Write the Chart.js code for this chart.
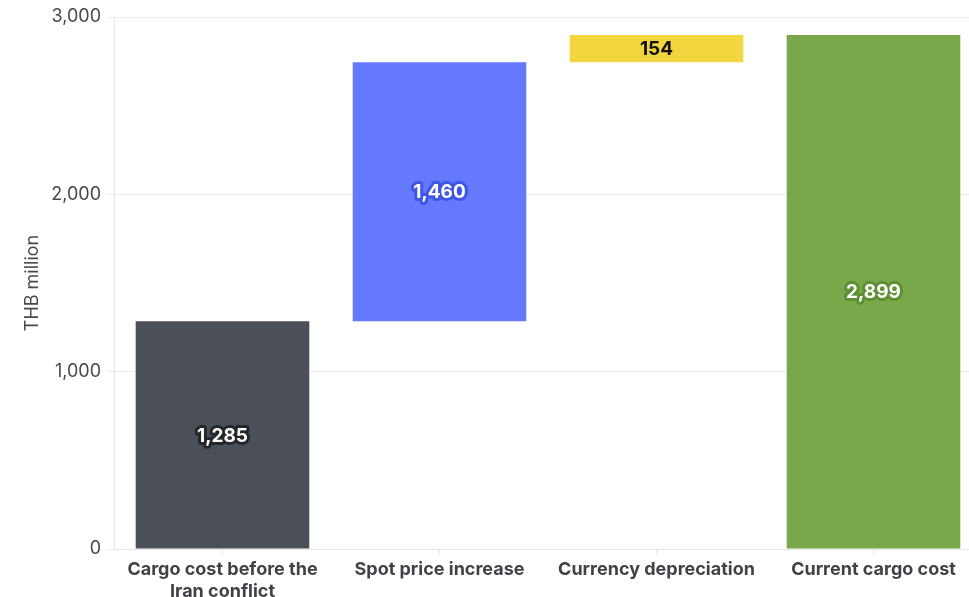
<!DOCTYPE html>
<html>
<head>
<meta charset="utf-8">
<script src="https://cdn.jsdelivr.net/npm/chart.js@4"></script>
<style>
  html, body { margin: 0; padding: 0; background: #fff; overflow: hidden; }
  #wrap { position: relative; width: 982px; height: 597px; }
</style>
</head>
<body>
<div id="wrap"><canvas id="c"></canvas></div>
<script>
const categories = [["Cargo cost before the", "Iran conflict"], "Spot price increase", "Currency depreciation", "Current cargo cost"];
const values = [1285, 1460, 154, 2899];
const isTotal = [true, false, false, true];
const valueLabels = ["1,285", "1,460", "154", "2,899"];
const barColors = ["#4b5058", "#6479fb", "#f3d540", "#79a84a"];
const labelColors = ["#ffffff", "#ffffff", "#111111", "#ffffff"];
const labelStrokes = ["#23272c", "#3f55e6", "#f3d540", "#5f8f33"];
const yTicks = [0, 1000, 2000, 3000];

// build floating ranges for the waterfall
let running = 0;
const ranges = values.map((v, i) => {
  if (isTotal[i]) { running = v; return [0, v]; }
  const r = [running, running + v];
  running += v;
  return r;
});

const labelPlugin = {
  id: 'barLabels',
  afterDatasetsDraw(chart) {
    const ctx = chart.ctx;
    const meta = chart.getDatasetMeta(0);
    ctx.save();
    ctx.font = 'bold 19px Inter';
    ctx.textAlign = 'center';
    ctx.textBaseline = 'middle';
    ctx.lineJoin = 'round';
    meta.data.forEach((bar, i) => {
      const y = (bar.y + bar.base) / 2 + 1;
      ctx.lineWidth = 6;
      ctx.strokeStyle = labelStrokes[i];
      ctx.strokeText(valueLabels[i], bar.x, y);
      ctx.fillStyle = labelColors[i];
      ctx.fillText(valueLabels[i], bar.x, y);
    });
    ctx.restore();
  }
};

new Chart(document.getElementById('c'), {
  type: 'bar',
  data: {
    labels: categories,
    datasets: [{
      data: ranges,
      backgroundColor: barColors,
      borderWidth: 0,
      borderSkipped: false,
      barPercentage: 0.8,
      categoryPercentage: 1.0
    }]
  },
  options: {
    responsive: true,
    maintainAspectRatio: false,
    animation: false,
    layout: { padding: { top: 17, right: 0, left: 0, bottom: 0 } },
    plugins: { legend: { display: false }, tooltip: { enabled: false } },
    scales: {
      x: {
        grid: { offset: false, drawOnChartArea: false, drawTicks: true, tickLength: 6, color: '#e6e6e6' },
        border: { color: '#e6e6e6' },
        ticks: { color: '#3f4247', font: { family: 'Inter', size: 18, weight: 'bold' }, padding: 4, maxRotation: 0, autoSkip: false },
        afterFit(scale) { scale.height = 48; }
      },
      y: {
        min: 0, max: 3000,
        afterBuildTicks(scale) { scale.ticks = yTicks.map(v => ({ value: v })); },
        grid: { color: '#ececec', tickLength: 7 },
        border: { color: '#e6e6e6' },
        ticks: {
          color: '#4a4a4a',
          font: { family: 'Inter', size: 18 },
          padding: 6,
          callback: v => v.toLocaleString('en-US')
        },
        title: { display: true, text: 'THB million', color: '#4a4a4a', font: { family: 'Inter', size: 18 }, padding: { top: 22, bottom: 6 } },
        afterFit(scale) { scale.width = 114; }
      }
    }
  },
  plugins: [labelPlugin]
});
</script>
</body>
</html>
